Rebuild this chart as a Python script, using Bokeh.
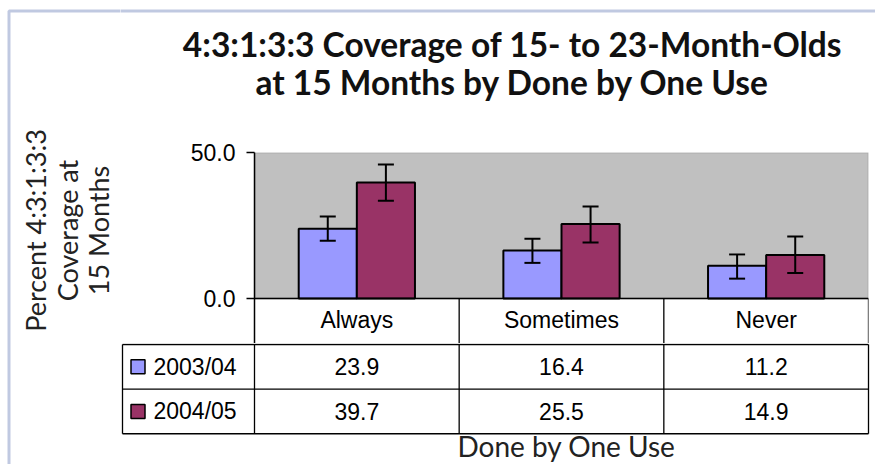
import numpy as np
from bokeh.plotting import figure
from bokeh.models import (ColumnDataSource, FactorRange, Range1d, FixedTicker,
                          NumeralTickFormatter, Label, BoxAnnotation, Span)
from bokeh.layouts import column, row
from bokeh.transform import dodge
from bokeh.embed import file_html
from bokeh.resources import INLINE
from bokeh.core.properties import value

# ---------------- data ----------------
categories = ["Always", "Sometimes", "Never"]
series = ["2003/04", "2004/05"]
cov_0304 = [23.9, 16.4, 11.2]
cov_0405 = [39.7, 25.5, 14.9]
lo_0304 = [19.8, 12.2, 6.8]
hi_0304 = [28.1, 20.5, 15.1]
lo_0405 = [33.5, 19.2, 8.7]
hi_0405 = [45.9, 31.5, 21.2]
y_ticks = [0, 50]
title_lines = ["4:3:1:3:3 Coverage of 15- to 23-Month-Olds",
               "at 15 Months by Done by One Use"]
ytitle_lines = ["Percent 4:3:1:3:3", "Coverage at", "15 Months"]
xtitle = "Done by One Use"

# ---------------- style / layout (page pixels) ----------------
colors = ["#9999FF", "#993366"]
BG = "#C0C0C0"
BORDER_BLUE = "#2E4D9B"
TOTAL_W, TOTAL_H = 875, 464
LEFT_W = 120                      # strip holding the y title
RIGHT_W = TOTAL_W - LEFT_W
TITLE_H = 130                     # strip holding the chart title
FL, FR, FT, FB = 254, 868, 152, 298   # bar-chart plotting area (0..50)
RH = 45.0                         # table row height
T_TOP = int(FB + RH)              # where the table-body figure starts
BAR_W = 0.284
TXT_FONT = "Liberation Sans"
TXT_SIZE = "23px"
HEAD_FONT = "Lato"
BASE_FIX = 12                     # label baseline correction


def blank(width, height, **kw):
    f = figure(width=width, height=height, output_backend="svg", toolbar_location=None,
               title=None, min_border=0, **kw)
    f.axis.visible = False
    f.grid.visible = False
    f.outline_line_color = None
    f.background_fill_color = "white"
    f.border_fill_color = "white"
    f.frame_align = False
    return f


def border_box(left, right, top, bottom):
    return BoxAnnotation(left=left, right=right, top=top, bottom=bottom,
                         left_units="screen", right_units="screen",
                         top_units="screen", bottom_units="screen",
                         fill_alpha=0, fill_color=None,
                         line_color=BORDER_BLUE, line_width=3)

# ---------------- left strip: y-axis title ----------------
pL = blank(LEFT_W, TOTAL_H, x_range=Range1d(0, 1), y_range=Range1d(0, 1))
for txt, base in zip(ytitle_lines, [47, 79, 110]):
    pL.add_layout(Label(x=base - BASE_FIX, y=TOTAL_H - 230, x_units="screen", y_units="screen",
                        text=txt, text_font=HEAD_FONT, text_font_size="27px",
                        text_color="#222222", angle=np.pi / 2,
                        text_align="center", text_baseline="alphabetic"))
pL.add_layout(border_box(8.5, LEFT_W + 6, TOTAL_H - 10.5, -6))

# ---------------- title strip ----------------
p0 = blank(RIGHT_W, TITLE_H, x_range=Range1d(0, 1), y_range=Range1d(0, 1))
for txt, base in zip(title_lines, [55, 93]):
    p0.add_layout(Label(x=512 - LEFT_W, y=TITLE_H - (base - BASE_FIX),
                        x_units="screen", y_units="screen",
                        text=txt, text_font=HEAD_FONT, text_font_style="bold",
                        text_font_size="33.5px", text_color="#111111",
                        text_align="center", text_baseline="alphabetic"))
p0.add_layout(border_box(-6, RIGHT_W + 6, TITLE_H - 10.5, -6))

# ---------------- bar chart + table header ----------------
H1 = T_TOP - TITLE_H
px_per_unit = (FB - FT) / 50.0
y_head_bottom = -(T_TOP - FB) / px_per_unit
p1 = figure(width=RIGHT_W, height=H1, x_range=FactorRange(*categories),
            y_range=Range1d(y_head_bottom, 50),
            output_backend="svg", toolbar_location=None,
            title=None, min_border_left=FL - LEFT_W, min_border_right=TOTAL_W - FR,
            min_border_top=FT - TITLE_H, min_border_bottom=0)
p1.frame_align = False
p1.background_fill_color = "white"
p1.border_fill_color = "white"
p1.outline_line_color = None
p1.xgrid.visible = False
p1.ygrid.visible = False
p1.xaxis.visible = False
p1.add_layout(BoxAnnotation(bottom=0, top=50, fill_color=BG, fill_alpha=1,
                            line_color="#808080", line_width=2, level="underlay"))

src = ColumnDataSource(dict(cat=categories, v0=cov_0304, v1=cov_0405,
                            lo0=lo_0304, hi0=hi_0304, lo1=lo_0405, hi1=hi_0405))
for i, (vk, lok, hik) in enumerate([("v0", "lo0", "hi0"), ("v1", "lo1", "hi1")]):
    off = (-0.5 + i) * BAR_W
    xs = dodge("cat", off, range=p1.x_range)
    p1.vbar(x=xs, top=vk, width=BAR_W, source=src, fill_color=colors[i],
            line_color="black", line_width=2)
    p1.segment(x0=xs, y0=lok, x1=xs, y1=hik, source=src, line_color="black", line_width=2)
    p1.scatter(x=xs, y=lok, source=src, marker="dash", size=16, line_color="black", line_width=2)
    p1.scatter(x=xs, y=hik, source=src, marker="dash", size=16, line_color="black", line_width=2)

ax = p1.yaxis[0]
ax.ticker = FixedTicker(ticks=y_ticks)
ax.formatter = NumeralTickFormatter(format="0.0")
ax.major_tick_out = 8
ax.major_tick_in = 0
ax.minor_tick_out = 0
ax.minor_tick_in = 0
ax.axis_line_color = "black"
ax.axis_line_width = 1.5
ax.major_tick_line_width = 1.5
ax.major_label_text_font = TXT_FONT
ax.major_label_text_font_size = TXT_SIZE
ax.major_label_text_color = "black"
ax.major_label_standoff = 11
p1.add_layout(Span(location=0, dimension="width", line_color="black", line_width=1.5))

ncat = len(categories)
# header row of the table: column separators and category names
p1.segment(x0=list(range(1, ncat + 1)), y0=[0] * ncat, x1=list(range(1, ncat + 1)),
           y1=[y_head_bottom] * ncat, line_color="black", line_width=1.3)
p1.text(x=categories, y=[y_head_bottom * 0.48] * ncat, text=categories,
        text_font=value(TXT_FONT), text_font_size=TXT_SIZE,
        text_align="center", text_baseline="middle", text_color="black")

# ---------------- table body ----------------
H2 = TOTAL_H - T_TOP
unit = (FR - FL) / ncat
p2 = blank(RIGHT_W, H2,
           x_range=Range1d((LEFT_W - FL) / unit, (TOTAL_W - FL) / unit),
           y_range=Range1d((TOTAL_H - FB) / RH, (T_TOP - 1 - FB) / RH))

xl = (122 - FL) / unit
seg_x0 = [xl, xl, xl, xl] + list(range(ncat + 1))
seg_x1 = [ncat, ncat, ncat, xl] + list(range(ncat + 1))
seg_y0 = [1, 2, 3, 1] + [1] * (ncat + 1)
seg_y1 = [1, 2, 3, 3] + [3] * (ncat + 1)
p2.segment(x0=seg_x0, y0=seg_y0, x1=seg_x1, y1=seg_y1, line_color="black", line_width=1.3)

cx = np.arange(ncat) + 0.5
for r, vals in enumerate([cov_0304, cov_0405]):
    p2.text(x=cx, y=[r + 1.5] * ncat, text=[f"{v:.1f}" for v in vals],
            text_font=value(TXT_FONT), text_font_size=TXT_SIZE,
            text_align="center", text_baseline="middle", text_color="black")

ry = [1.5 + r for r in range(len(series))]
p2.rect(x=[(137.5 - FL) / unit] * len(series), y=ry, width=14, height=14,
        width_units="screen", height_units="screen", fill_color=colors,
        line_color="black", line_width=1.5)
p2.text(x=[(153 - FL) / unit] * len(series), y=ry, text=series,
        text_font=value(TXT_FONT), text_font_size=TXT_SIZE,
        text_align="left", text_baseline="middle", text_color="black")

p2.add_layout(Label(x=566 - LEFT_W, y=TOTAL_H - (457 - BASE_FIX), x_units="screen", y_units="screen",
                    text=xtitle, text_font=HEAD_FONT, text_font_size="28px",
                    text_color="#222222", text_align="center", text_baseline="alphabetic"))

layout = row(pL, column(p0, p1, p2, spacing=0), spacing=0)
page_css = "{% block postamble %}<style>html, body { overflow: hidden !important; }</style>{% endblock %}"
open("out.html", "w").write(file_html(layout, INLINE, template=page_css))
